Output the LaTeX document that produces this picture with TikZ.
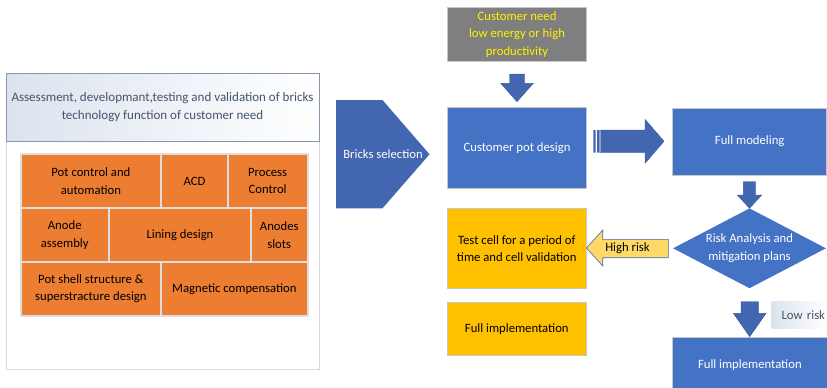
\documentclass[tikz,border=0pt]{standalone}
\usepackage{fontspec}
\setmainfont{Carlito}
\usepackage{tikz}
\usetikzlibrary{shapes.geometric,positioning}
\definecolor{potblue}{HTML}{4472C4}
\definecolor{arrblue}{HTML}{4266AF}
\definecolor{brick}{HTML}{ED7D31}
\definecolor{gold}{HTML}{FFC000}
\definecolor{hiyellow}{HTML}{FFD966}
\definecolor{slate}{HTML}{44546A}
\definecolor{steel}{HTML}{8497B0}
\definecolor{mist}{HTML}{DCE3EE}
\definecolor{needgray}{HTML}{7F7F7F}
\tikzset{
  box/.style={draw=black!22,line width=0.8pt,align=center,inner sep=0pt},
  cell/.style={draw=black!13,line width=2pt,fill=brick,align=center,inner sep=0pt}, % brick cells
  bluebox/.style={box,fill=potblue,text=white},
  goldbox/.style={box,fill=gold},
  risk/.style={diamond,fill=potblue,text=white,align=center,inner sep=0pt,aspect=1.9},
  blockarr/.style={fill=arrblue,draw=arrblue!85!black,line width=0.4pt},
  hint/.style={text=slate,left color=mist,right color=white,inner sep=0pt}
}
% downward block arrow: centre x, top, start of head, tip, half shaft, half head
\newcommand{\dnblock}[6]{%
  \filldraw[blockarr] (#1-#5,#2) -- (#1+#5,#2) -- (#1+#5,#3) -- (#1+#6,#3) -- (#1,#4)
    -- (#1-#6,#3) -- (#1-#5,#3) -- cycle;}

\begin{document}
\begin{tikzpicture}[x=1pt,y=-1pt,font=\fontsize{12.7}{17.5}\selectfont]
  \useasboundingbox (0,0) rectangle (827,388);

  % left panel: brick technology
  \node[draw=black!15,line width=0.8pt,minimum width=313,minimum height=228] (panel) at (162.5,255) {};
  \node[hint,draw=steel,line width=0.8pt,minimum width=313,minimum height=68,align=center,
        font=\fontsize{13}{18}\selectfont] (assess) at (162.5,107)
    {Assessment, developmant,testing and validation of bricks\\technology function of customer need};
  \node[cell,minimum width=140.8,minimum height=54] (potctl) at (90.9,181) {Pot control and\\automation};
  \node[cell,minimum width=66.4,minimum height=54] (acd) at (194.5,181) {ACD};
  \node[cell,minimum width=79.8,minimum height=54] (proc) at (267.6,181) {Process\\Control};
  \node[cell,minimum width=88.5,minimum height=54] (anode) at (64.75,235) {Anode\\assembly};
  \node[cell,minimum width=142,minimum height=54] (lining) at (180,235) {Lining design};
  \node[cell,minimum width=56.5,minimum height=54] (slots) at (279.25,235) {Anodes\\slots};
  \node[cell,minimum width=140.8,minimum height=53.5] (shell) at (90.9,288.75) {Pot shell structure \&\\superstracture design};
  \node[cell,minimum width=146.2,minimum height=53.5] (magnet) at (234.4,288.75) {Magnetic compensation};

  % bricks selection
  \fill[arrblue] (336,100) -- (382.5,100) -- (429.5,154.3) -- (382.5,208.3) -- (336,208.3) -- cycle;
  \node[text=white] (bricks) at (383,154.3) {Bricks selection};

  % main flow
  \node[box,fill=needgray,text=yellow,minimum width=139.4,minimum height=54.4] (need) at (517,34.5)
    {Customer need\\low energy or high\\productivity};
  \node[bluebox,minimum width=139.4,minimum height=81] (potdesign) at (517,147.8) {Customer pot design};
  \node[bluebox,minimum width=154,minimum height=66.7] (model) at (749.7,141.65) {Full modeling};
  \node[risk,minimum width=153,minimum height=80] (analysis) at (749.5,248.3) {Risk Analysis and\\mitigation plans};
  \node[goldbox,minimum width=139,minimum height=80.4] (testcell) at (516.8,248.5)
    {Test cell for a period of\\time and cell validation};
  \node[goldbox,minimum width=139,minimum height=53] (implgold) at (516.8,328.8) {Full implementation};
  \node[bluebox,minimum width=154.3,minimum height=55.7] (implblue) at (749.85,365.15) {Full implementation};
  \node[hint,minimum width=55.3,minimum height=26.6,text width=51.3,align=right] (lowrisk) at (799.35,315) {Low risk};

  % block arrows
  \dnblock{517}{74}{83.3}{101.7}{7.5}{16.3}
  \dnblock{749.5}{181.7}{195}{208.3}{6.2}{12.2}
  \dnblock{749.7}{301.7}{313.3}{336.7}{8.65}{16.35}
  % striped arrow towards the model
  \filldraw[blockarr] (600.5,130) -- (645,130) -- (645,119.3) -- (664,141.3) -- (645,163.3)
    -- (645,152.7) -- (600.5,152.7) -- cycle;
  \fill[arrblue] (593.3,130) rectangle (595.5,152.7) (597,130) rectangle (599.5,152.7);
  % high risk goes back to the test cell
  \filldraw[fill=hiyellow,draw=arrblue,line width=0.6pt] (668.3,239.3) -- (602.7,239.3) -- (602.7,230)
    -- (586.5,248) -- (602.7,266) -- (602.7,257.7) -- (668.3,257.7) -- cycle;
  \node (highrisk) at (627.5,248) {High risk};
\end{tikzpicture}
\end{document}
